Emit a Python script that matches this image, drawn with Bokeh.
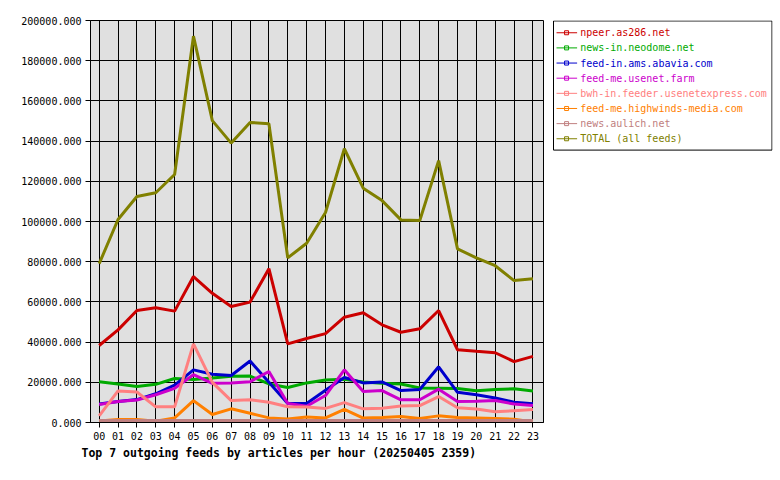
from bokeh.plotting import figure
from bokeh.models import Range1d, FixedTicker, PrintfTickFormatter, Title, ColumnDataSource, BoxAnnotation
from bokeh.layouts import row
from bokeh.core.properties import value
from bokeh.embed import file_html
from bokeh.resources import INLINE

hours = ["00", "01", "02", "03", "04", "05", "06", "07", "08", "09", "10", "11",
         "12", "13", "14", "15", "16", "17", "18", "19", "20", "21", "22", "23"]
y_ticks = [0, 20000, 40000, 60000, 80000, 100000, 120000, 140000, 160000, 180000, 200000]

feed_names = ["npeer.as286.net", "news-in.neodome.net", "feed-in.ams.abavia.com",
              "feed-me.usenet.farm", "bwh-in.feeder.usenetexpress.com",
              "feed-me.highwinds-media.com", "news.aulich.net", "TOTAL (all feeds)"]
feed_colors = ["#cc0000", "#00aa00", "#0000cc", "#cc00cc", "#ff8080", "#ff8000", "#c08080", "#808000"]

npeer = [38300, 46100, 55700, 57100, 55400, 72600, 64300, 57700, 59900, 76500, 39100, 41800,
         44200, 52400, 54600, 48600, 44900, 46600, 55700, 36200, 35400, 34700, 30300, 32900]
neodome = [20300, 19100, 17900, 19000, 21900, 21400, 22100, 23000, 23100, 19200, 17400, 19700,
           21100, 21500, 20100, 19500, 19200, 17200, 17100, 16900, 15800, 16400, 16800, 15700]
abavia = [9200, 10400, 11400, 14300, 18600, 26200, 24000, 23400, 30600, 20000, 9500, 9500,
          16000, 22400, 19700, 20200, 15900, 16400, 27700, 15000, 13800, 12200, 10100, 9300]
usenetfarm = [9000, 10400, 11200, 13800, 17000, 23800, 19500, 19700, 20300, 25400, 9500, 8100,
              13400, 26200, 15400, 15900, 11300, 11300, 16600, 10500, 10600, 10900, 9200, 8400]
usenetexpress = [3300, 15700, 15200, 7800, 7800, 39100, 20000, 10900, 11300, 10100, 7800, 7700,
                 7000, 9900, 6800, 7100, 8200, 8400, 12900, 7300, 6700, 5300, 5900, 6500]
highwinds = [800, 1500, 1500, 600, 2300, 10900, 4000, 6800, 4600, 2300, 1700, 2700,
             2300, 6500, 2200, 2500, 3000, 2000, 3300, 2500, 2300, 2000, 1600, 300]
aulich = [1000, 1000, 1000, 1000, 1000, 1000, 1000, 1000, 1000, 1000, 1000, 1000,
          1000, 1000, 1000, 1000, 1000, 1000, 1000, 1000, 1000, 1000, 1000, 1000]
total = [79000, 101000, 112400, 114300, 123400, 192200, 150200, 139000, 149300, 148600, 81900, 89200,
         104500, 136200, 116600, 110400, 100800, 100500, 130300, 86400, 81900, 78000, 70600, 71500]

series = [npeer, neodome, abavia, usenetfarm, usenetexpress, highwinds, aulich, total]
FONT = "DejaVu Sans Mono"

x = list(range(len(hours)))

p = figure(width=552, height=480, x_range=Range1d(-0.46, 23.56), y_range=Range1d(0, 200000),
           output_backend="svg", toolbar_location=None,
           min_border_left=90, min_border_right=9, min_border_top=20, min_border_bottom=58)
p.background_fill_color = "#e0e0e0"
p.border_fill_color = "white"
p.outline_line_color = "black"
p.outline_line_width = 1

for vals, col in zip(series, feed_colors):
    p.line(x, vals, line_color=col, line_width=3)

p.xaxis.ticker = FixedTicker(ticks=x)
p.xaxis.major_label_overrides = {i: h for i, h in enumerate(hours)}
p.yaxis.ticker = FixedTicker(ticks=y_ticks)
p.yaxis.formatter = PrintfTickFormatter(format="%.3f")
for ax in (p.xaxis, p.yaxis):
    ax.axis_line_color = "black"
    ax.major_tick_line_color = "black"
    ax.major_tick_out = 5
    ax.major_tick_in = 0
    ax.minor_tick_line_color = None
    ax.major_label_text_font = FONT
    ax.major_label_text_font_size = "10px"
    ax.major_label_text_color = "black"
p.yaxis.major_label_standoff = 4
p.xaxis.major_label_standoff = 4

p.xgrid.ticker = FixedTicker(ticks=x)
p.ygrid.ticker = FixedTicker(ticks=y_ticks)
for g in (p.xgrid, p.ygrid):
    g.grid_line_color = "black"
    g.grid_line_width = 1
    g.grid_line_alpha = 1

t = Title(text="Top 7 outgoing feeds by articles per hour (20250405 2359)",
          text_font=FONT, text_font_size="11.5px", text_font_style="bold",
          text_color="black", align="left", offset=-9, standoff=3)
p.add_layout(t, "below")

# legend panel (frame aligned with the main plot frame: 20..422 px)
leg_src = ColumnDataSource(dict(name=feed_names, color=feed_colors, row=list(range(len(feed_names)))))
lg = figure(width=228, height=480, x_range=Range1d(-0.5, 218.5), y_range=Range1d(25.74, -0.81),
            output_backend="svg", toolbar_location=None,
            x_axis_location=None, y_axis_location=None,
            min_border_left=0, min_border_right=8, min_border_top=20, min_border_bottom=58)
lg.xgrid.visible = False
lg.ygrid.visible = False
lg.outline_line_color = None
lg.background_fill_color = "white"
lg.border_fill_color = "white"
lg.add_layout(BoxAnnotation(left=0.5, right=218, top=-0.78, bottom=7.75,
                            fill_alpha=0, line_color="black", line_width=1, line_alpha=1))
lg.segment(x0=3.5, x1=24, y0="row", y1="row", line_color="color", line_width=1, source=leg_src)
lg.scatter(x=13.5, y="row", marker="square", size=4, line_color="color", fill_alpha=0,
           line_width=1, source=leg_src)
lg.text(x=27, y="row", text="name", text_color="color", text_font=value(FONT),
        text_font_size="10px", text_baseline="middle", text_align="left", source=leg_src)

layout = row(p, lg)
open("out.html", "w").write(file_html(layout, INLINE))
